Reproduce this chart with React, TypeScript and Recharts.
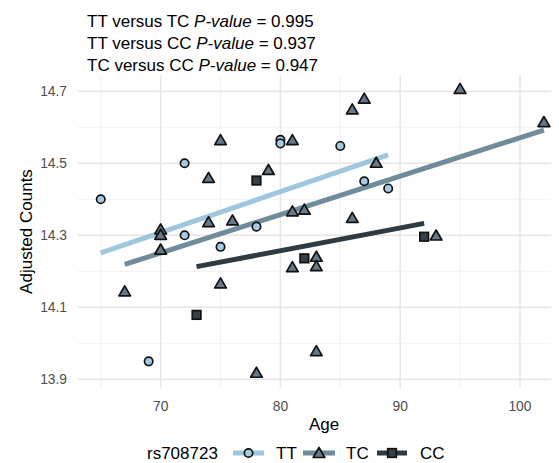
import { ComposedChart, Scatter, XAxis, YAxis, ReferenceLine } from 'recharts';

const FONT = '"Liberation Sans", Arial, Helvetica, sans-serif';

// Adjusted counts by age for each rs708723 genotype
const ttAge = [65, 69, 72, 72, 75, 78, 80, 80, 85, 87, 89];
const ttCount = [14.4, 13.95, 14.5, 14.3, 14.268, 14.324, 14.565, 14.555, 14.548, 14.45, 14.43];

const tcAge = [67, 70, 70, 70, 74, 74, 75, 75, 76, 78, 79, 81, 81, 81, 82, 83, 83, 83, 86, 86, 87, 88, 93, 95, 102];
const tcCount = [
  14.143, 14.315, 14.3, 14.259, 14.458, 14.335, 14.563, 14.165, 14.34, 13.917, 14.48, 14.563, 14.365,
  14.21, 14.37, 14.239, 14.213, 13.977, 14.648, 14.347, 14.678, 14.5, 14.298, 14.705, 14.613,
];

const ccAge = [73, 78, 82, 92];
const ccCount = [14.079, 14.452, 14.236, 14.296];

// linear fit end points per genotype
const ttFitAge = [65, 89];
const ttFitCount = [14.251, 14.523];
const tcFitAge = [67, 102];
const tcFitCount = [14.219, 14.592];
const ccFitAge = [73, 92];
const ccFitCount = [14.213, 14.333];

const xMajor = [70, 80, 90, 100];
const xMinor = [65, 75, 85, 95];
const yMajor = [13.9, 14.1, 14.3, 14.5, 14.7];
const yMinor = [14.0, 14.2, 14.4, 14.6];

const pValues = [
  { a: 'TT', b: 'TC', p: '0.995' },
  { a: 'TT', b: 'CC', p: '0.937' },
  { a: 'TC', b: 'CC', p: '0.947' },
];

const TT_FILL = '#a3cbe3';
const TT_LINE = '#9fc6df';
const TC_FILL = '#65798a';
const TC_LINE = '#6f8c9c';
const CC_FILL = '#363f45';
const CC_LINE = '#2f3b42';
const OUTLINE = '#111';

const zip = (ages: number[], counts: number[]) => ages.map((age, i) => ({ age, count: counts[i] }));

const ttData = zip(ttAge, ttCount);
const tcData = zip(tcAge, tcCount);
const ccData = zip(ccAge, ccCount);

const CircleMark = ({ cx, cy }: any) => (
  <circle cx={cx} cy={cy} r={4.2} fill={TT_FILL} stroke={OUTLINE} strokeWidth={1.7} />
);

const TriangleMark = ({ cx, cy }: any) => (
  <polygon
    points={`${cx},${cy - 6} ${cx - 5.8},${cy + 4} ${cx + 5.8},${cy + 4}`}
    fill={TC_FILL}
    stroke={OUTLINE}
    strokeWidth={1.7}
    strokeLinejoin="round"
  />
);

const SquareMark = ({ cx, cy }: any) => (
  <rect x={cx - 4.3} y={cy - 4.3} width={8.6} height={8.6} fill={CC_FILL} stroke={OUTLINE} strokeWidth={1.7} />
);

const NoMark = () => <g />;

function Title() {
  return (
    <g fontFamily={FONT} fontSize={17} fill="#000">
      {pValues.map((r, i) => (
        <text key={i} x={79} y={18.5 + i * 22.3}>
          {`${r.a} versus ${r.b} `}
          <tspan fontStyle="italic">P-value</tspan>
          {` = ${r.p}`}
        </text>
      ))}
    </g>
  );
}

function GenotypeLegend() {
  const y = 445;
  const base = 451;
  return (
    <g fontFamily={FONT} fontSize={17} fill="#000">
      <text x={139} y={base}>rs708723</text>
      <line x1={225} x2={256} y1={y} y2={y} stroke={TT_LINE} strokeWidth={5} />
      <CircleMark cx={240.5} cy={y} />
      <text x={268} y={base}>TT</text>
      <line x1={295} x2={327} y1={y} y2={y} stroke={TC_LINE} strokeWidth={5} />
      <TriangleMark cx={311} cy={y + 0.5} />
      <text x={338} y={base}>TC</text>
      <line x1={369} x2={399} y1={y} y2={y} stroke={CC_LINE} strokeWidth={5} />
      <SquareMark cx={384} cy={y} />
      <text x={412} y={base}>CC</text>
    </g>
  );
}

export default function App() {
  return (
    <div style={{ width: 551, height: 455, fontFamily: FONT }}>
      <ComposedChart width={551} height={455} margin={{ top: 67, right: 0, bottom: 25, left: 0 }}>
        <XAxis
          type="number"
          dataKey="age"
          domain={[63.1, 103.26]}
          ticks={xMajor}
          axisLine={false}
          tickLine={false}
          tickSize={5}
          tickMargin={8}
          height={50}
          tick={{ fill: '#4d4d4d', fontSize: 13.8, fontFamily: FONT }}
          label={{ value: 'Age', position: 'insideBottom', offset: 8, dx: 5.5, fill: '#000', fontSize: 17, fontFamily: FONT }}
        />
        <YAxis
          type="number"
          dataKey="count"
          domain={[13.876, 14.745]}
          ticks={yMajor}
          axisLine={false}
          tickLine={false}
          tickSize={5}
          tickMargin={6}
          width={70}
          tickFormatter={(v: number) => v.toFixed(1)}
          tick={{ fill: '#4d4d4d', fontSize: 13.8, fontFamily: FONT }}
          label={{
            value: 'Adjusted Counts',
            angle: -90,
            position: 'insideLeft',
            offset: 18,
            fill: '#000',
            fontSize: 17,
            fontFamily: FONT,
            style: { textAnchor: 'middle' },
          }}
        />
        {yMinor.map((v) => (
          <ReferenceLine key={`ym${v}`} y={v} stroke="#ededed" strokeWidth={0.8} />
        ))}
        {xMinor.map((v) => (
          <ReferenceLine key={`xm${v}`} x={v} stroke="#ededed" strokeWidth={0.8} />
        ))}
        {yMajor.map((v) => (
          <ReferenceLine key={`y${v}`} y={v} stroke="#e6e6e6" strokeWidth={1.5} />
        ))}
        {xMajor.map((v) => (
          <ReferenceLine key={`x${v}`} x={v} stroke="#e6e6e6" strokeWidth={1.5} />
        ))}
        <Scatter data={zip(ttFitAge, ttFitCount)} line={{ stroke: TT_LINE, strokeWidth: 5 }} shape={NoMark} isAnimationActive={false} />
        <Scatter data={zip(tcFitAge, tcFitCount)} line={{ stroke: TC_LINE, strokeWidth: 5 }} shape={NoMark} isAnimationActive={false} />
        <Scatter data={zip(ccFitAge, ccFitCount)} line={{ stroke: CC_LINE, strokeWidth: 5 }} shape={NoMark} isAnimationActive={false} />
        <Scatter data={ttData} shape={CircleMark} isAnimationActive={false} />
        <Scatter data={tcData} shape={TriangleMark} isAnimationActive={false} />
        <Scatter data={ccData} shape={SquareMark} isAnimationActive={false} />
        <Title />
        <GenotypeLegend />
      </ComposedChart>
    </div>
  );
}
